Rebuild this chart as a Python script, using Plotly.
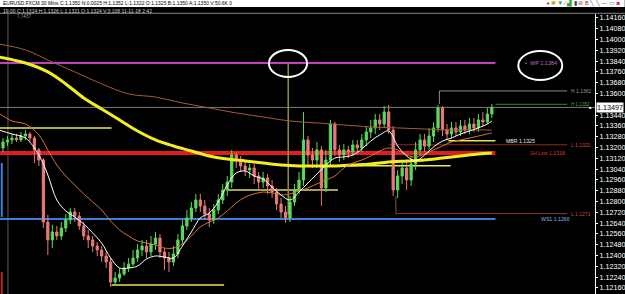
import plotly.graph_objects as go

# ---------------- data (EUR/USD 30 min candles) ----------------
bar_idx = list(range(110))
opens = [1.13196, 1.13241, 1.13256, 1.13270, 1.13256, 1.13285, 1.13300, 1.13270, 1.13182, 1.13107,
         1.12648, 1.12515, 1.12574, 1.12544, 1.12603, 1.12663, 1.12722, 1.12692, 1.12618, 1.12544,
         1.12515, 1.12470, 1.12441, 1.12396, 1.12352, 1.12203, 1.12233, 1.12263, 1.12307, 1.12337,
         1.12381, 1.12441, 1.12470, 1.12426, 1.12485, 1.12529, 1.12426, 1.12381, 1.12352, 1.12411,
         1.12515, 1.12618, 1.12678, 1.12752, 1.12811, 1.12767, 1.12707, 1.12663, 1.12737, 1.12811,
         1.12885, 1.12944, 1.13144, 1.13107, 1.13063, 1.13033, 1.13048, 1.12989, 1.12944, 1.12974,
         1.12915, 1.12870, 1.12781, 1.12722, 1.12678, 1.12796, 1.12885, 1.12959, 1.13256, 1.13144,
         1.13107, 1.13182, 1.12900, 1.13107, 1.13374, 1.13182, 1.13144, 1.13182, 1.13167, 1.13219,
         1.13196, 1.13256, 1.13315, 1.13345, 1.13404, 1.13374, 1.13463, 1.13330, 1.12885, 1.12989,
         1.13048, 1.12959, 1.13078, 1.13182, 1.13256, 1.13211, 1.13285, 1.13345, 1.13493, 1.13330,
         1.13300, 1.13345, 1.13315, 1.13359, 1.13330, 1.13374, 1.13345, 1.13404, 1.13389, 1.13448]
closes = [1.13241, 1.13256, 1.13270, 1.13256, 1.13285, 1.13300, 1.13270, 1.13182, 1.13107, 1.12648,
          1.12515, 1.12574, 1.12544, 1.12603, 1.12663, 1.12722, 1.12692, 1.12618, 1.12544, 1.12515,
          1.12470, 1.12441, 1.12396, 1.12352, 1.12203, 1.12233, 1.12263, 1.12307, 1.12337, 1.12381,
          1.12441, 1.12470, 1.12426, 1.12485, 1.12529, 1.12426, 1.12381, 1.12352, 1.12411, 1.12515,
          1.12618, 1.12678, 1.12752, 1.12811, 1.12767, 1.12707, 1.12663, 1.12737, 1.12811, 1.12885,
          1.12944, 1.13144, 1.13107, 1.13063, 1.13033, 1.13048, 1.12989, 1.12944, 1.12974, 1.12915,
          1.12870, 1.12781, 1.12722, 1.12678, 1.12796, 1.12885, 1.12959, 1.13256, 1.13144, 1.13107,
          1.13182, 1.12900, 1.13107, 1.13374, 1.13182, 1.13144, 1.13182, 1.13167, 1.13219, 1.13196,
          1.13256, 1.13315, 1.13345, 1.13404, 1.13374, 1.13463, 1.13330, 1.12885, 1.12989, 1.13048,
          1.12959, 1.13078, 1.13182, 1.13256, 1.13211, 1.13285, 1.13345, 1.13493, 1.13330, 1.13300,
          1.13345, 1.13315, 1.13359, 1.13330, 1.13374, 1.13345, 1.13404, 1.13389, 1.13448, 1.13497]
highs = [1.13270, 1.13285, 1.13300, 1.13300, 1.13315, 1.13330, 1.13315, 1.13285, 1.13196, 1.13122,
         1.12700, 1.12626, 1.12618, 1.12648, 1.12707, 1.12752, 1.12752, 1.12722, 1.12648, 1.12589,
         1.12544, 1.12500, 1.12470, 1.12426, 1.12381, 1.12278, 1.12307, 1.12352, 1.12381, 1.12441,
         1.12485, 1.12515, 1.12515, 1.12544, 1.12574, 1.12559, 1.12455, 1.12426, 1.12470, 1.12559,
         1.12663, 1.12737, 1.12796, 1.12856, 1.12856, 1.12811, 1.12752, 1.12781, 1.12856, 1.12930,
         1.12989, 1.13182, 1.13167, 1.13137, 1.13093, 1.13078, 1.13078, 1.13019, 1.13019, 1.13004,
         1.12959, 1.12900, 1.12826, 1.12767, 1.12841, 1.12930, 1.13019, 1.13463, 1.13285, 1.13196,
         1.13241, 1.13211, 1.13182, 1.13404, 1.13389, 1.13219, 1.13226, 1.13211, 1.13256, 1.13256,
         1.13300, 1.13359, 1.13404, 1.13448, 1.13448, 1.13507, 1.13515, 1.13359, 1.13033, 1.13107,
         1.13093, 1.13137, 1.13241, 1.13300, 1.13300, 1.13345, 1.13389, 1.13515, 1.13507, 1.13374,
         1.13389, 1.13389, 1.13404, 1.13404, 1.13419, 1.13419, 1.13448, 1.13463, 1.13493, 1.13522]
lows = [1.13167, 1.13211, 1.13226, 1.13241, 1.13241, 1.13256, 1.13241, 1.13085, 1.13063, 1.12603,
        1.12403, 1.12455, 1.12515, 1.12515, 1.12574, 1.12633, 1.12648, 1.12589, 1.12515, 1.12455,
        1.12426, 1.12396, 1.12352, 1.12307, 1.12166, 1.12174, 1.12203, 1.12248, 1.12278, 1.12322,
        1.12352, 1.12396, 1.12381, 1.12396, 1.12441, 1.12381, 1.12292, 1.12278, 1.12322, 1.12381,
        1.12485, 1.12589, 1.12648, 1.12722, 1.12722, 1.12663, 1.12611, 1.12633, 1.12707, 1.12781,
        1.12841, 1.12900, 1.13048, 1.13019, 1.12989, 1.12974, 1.12930, 1.12885, 1.12900, 1.12856,
        1.12826, 1.12737, 1.12678, 1.12641, 1.12648, 1.12767, 1.12856, 1.12915, 1.13070, 1.13048,
        1.13048, 1.12767, 1.12870, 1.13063, 1.13137, 1.13093, 1.13107, 1.13122, 1.13137, 1.13152,
        1.13167, 1.13211, 1.13270, 1.13300, 1.13330, 1.13345, 1.13300, 1.12841, 1.12826, 1.12930,
        1.12885, 1.12915, 1.13033, 1.13137, 1.13167, 1.13182, 1.13241, 1.13315, 1.13285, 1.13256,
        1.13270, 1.13285, 1.13285, 1.13300, 1.13300, 1.13315, 1.13315, 1.13359, 1.13374, 1.13419]

# moving averages
ma_x = [-1, 2, 5, 8] + list(range(10, 109, 2)) + [109]
ma_fast = [1.13330, 1.13300, 1.13270, 1.13144, 1.12996, 1.12811, 1.12730, 1.12685, 1.12633, 1.12567,
           1.12492, 1.12381, 1.12307, 1.12307, 1.12322, 1.12374, 1.12396, 1.12389, 1.12381, 1.12470,
           1.12574, 1.12678, 1.12715, 1.12796, 1.12922, 1.13011, 1.13026, 1.12989, 1.12967, 1.12907,
           1.12848, 1.12811, 1.12870, 1.12937, 1.13004, 1.13070, 1.13122, 1.13130, 1.13144, 1.13189,
           1.13248, 1.13293, 1.13322, 1.13211, 1.13137, 1.13100, 1.13144, 1.13204, 1.13248, 1.13270,
           1.13300, 1.13322, 1.13345, 1.13374, 1.13396]
ma_mid = [1.13456, 1.13396, 1.13374, 1.13293, 1.13182, 1.13070, 1.12989, 1.12922, 1.12856, 1.12796,
          1.12737, 1.12655, 1.12589, 1.12544, 1.12507, 1.12492, 1.12478, 1.12455, 1.12455, 1.12485,
          1.12544, 1.12611, 1.12648, 1.12678, 1.12730, 1.12789, 1.12833, 1.12856, 1.12870, 1.12863,
          1.12848, 1.12856, 1.12878, 1.12900, 1.12930, 1.12959, 1.12989, 1.13048, 1.13085, 1.13107,
          1.13137, 1.13174, 1.13196, 1.13182, 1.13144, 1.13130, 1.13152, 1.13182, 1.13211, 1.13241,
          1.13256, 1.13270, 1.13285, 1.13300, 1.13308]
slow_x = [-1, 5, 10, 16, 22, 28, 34, 40, 46, 52, 58, 64, 70, 76, 82, 88, 94, 100, 106, 109]
ma_slow = [1.13967, 1.13923, 1.13848, 1.13760, 1.13671, 1.13597, 1.13574, 1.13530, 1.13493, 1.13456,
           1.13426, 1.13396, 1.13382, 1.13367, 1.13352, 1.13345, 1.13337, 1.13330, 1.13330, 1.13330]
long_x = [-1, 5, 10, 14, 18, 22, 26, 30, 34, 38, 42, 46, 50, 54, 58, 62, 66, 70, 74, 78,
          82, 86, 90, 94, 98, 102, 106, 109]
ma_long = [1.13871, 1.13826, 1.13760, 1.13671, 1.13567, 1.13485, 1.13404, 1.13322, 1.13256, 1.13211,
           1.13174, 1.13137, 1.13115, 1.13100, 1.13085, 1.13070, 1.13063, 1.13063, 1.13063, 1.13070,
           1.13078, 1.13093, 1.13100, 1.13107, 1.13122, 1.13137, 1.13152, 1.13159]

# price levels
wp_level = 1.13826
h_prev = 1.13619
h_day = 1.13520
l_day = 1.13220
mbr_level = 1.13250
low_1h = 1.13160
ws1_level = 1.12670
l_prev = 1.12710
last_price = 1.13497
seg_levels = [1.13345, 1.12885, 1.12181, 1.13065]

# axis ticks (the 1.13520 label sits under the last-price box in the reference)
y_ticks = [1.12160 + 0.0008 * k for k in range(26) if k != 17]

# ---------------- figure ----------------
fig = go.Figure()

shapes = []
def hline(y, x0, x1, color, width, xref="x", layer="below"):
    shapes.append(dict(type="line", xref=xref, yref="y", x0=x0, x1=x1, y0=y, y1=y,
                       line=dict(color=color, width=width), layer=layer))

def vline(x, y0, y1, color, width, yref="y", xref="x", layer="below"):
    shapes.append(dict(type="line", xref=xref, yref=yref, x0=x, x1=x, y0=y0, y1=y1,
                       line=dict(color=color, width=width), layer=layer))

X_END = 109.8      # right end of last bar area
X_LBL = 125.8      # label-line end

vline(1.1, 0, 1, "#5a5a5a", 1, yref="paper")
hline(last_price, 0, 1, "#7a7a7a", 1, xref="paper")
hline(wp_level, -1, X_END, "#c23ec2", 2)
hline(h_prev, 97.3, X_LBL, "#8c8c8c", 1)
vline(97.3, h_prev, h_day, "#8c8c8c", 1)
hline(h_day, X_END, X_LBL, "#2f8a2f", 1)
hline(l_day, 86, X_LBL, "#8a2f22", 1)
hline(low_1h, -1, X_END, "#e01c1c", 4)
hline(ws1_level, -1, X_END, "#3a80d8", 2)
hline(l_prev, 87.6, X_LBL, "#8a3a2a", 1)
vline(87.6, 1.12841, l_prev, "#7a5a4a", 1)
hline(seg_levels[0], -1, 24.2, "#e6e65a", 1.5)
hline(seg_levels[1], 50, 74.7, "#d8d86a", 1.5)
hline(seg_levels[2], 24.2, 49.3, "#e6e65a", 1.5)
hline(seg_levels[3], 74.9, 99.8, "#f0f040", 1.5)
hline(mbr_level, 99.3, X_END, "#e6e65a", 1.5)
vline(63.6, wp_level, 1.12700, "#8f8f3a", 1.5)
vline(0.003, 1.13085, 1.12685, "#3a80d8", 2, xref="paper")
vline(0.003, 1.12278, 1.12115, "#c02020", 2, xref="paper")

# ellipses
shapes.append(dict(type="circle", xref="x", yref="y", x0=59.3, x1=67.8, y0=1.13722, y1=1.13923,
                   line=dict(color="white", width=2), layer="above"))
shapes.append(dict(type="circle", xref="x", yref="y", x0=114.9, x1=124.7, y0=1.13700, y1=1.13915,
                   line=dict(color="white", width=2), layer="above"))

# header bars
shapes.append(dict(type="rect", xref="paper", yref="paper", x0=0, x1=1.05, y0=1.025, y1=1.06,
                   fillcolor="white", line=dict(width=0), layer="above"))
shapes.append(dict(type="line", xref="paper", yref="paper", x0=0, x1=1.05, y0=1.0025, y1=1.0025,
                   line=dict(color="#888888", width=1), layer="above"))

fig.add_trace(go.Scatter(x=long_x, y=ma_long, mode="lines", line=dict(color="#f2ef1e", width=3, shape="spline"),
                         hoverinfo="skip"))
fig.add_trace(go.Scatter(x=slow_x, y=ma_slow, mode="lines", line=dict(color="#a85a35", width=1, shape="spline"),
                         hoverinfo="skip"))
fig.add_trace(go.Scatter(x=ma_x, y=ma_mid, mode="lines", line=dict(color="#d8742e", width=1, shape="spline"),
                         hoverinfo="skip"))
fig.add_trace(go.Candlestick(
    x=bar_idx, open=opens, high=highs, low=lows, close=closes,
    increasing=dict(line=dict(color="#5ada5a", width=1), fillcolor="#5ada5a"),
    decreasing=dict(line=dict(color="#e87a7a", width=1), fillcolor="#e87a7a"),
    whiskerwidth=0, hoverinfo="skip"))
fig.add_trace(go.Scatter(x=ma_x, y=ma_fast, mode="lines", line=dict(color="#ffffff", width=1, shape="spline"),
                         hoverinfo="skip"))

ann = []
def label(x, y, text, color, size=5.0):
    ann.append(dict(x=x, y=y, xref="x", yref="y", text=text, showarrow=False, xanchor="left",
                    yanchor="middle", font=dict(color=color, size=size, family="Liberation Sans, Arial")))

X_TXT = 126.1
label(116.0, wp_level, "•  WP 1.1384", "#c860c8", 5.5)
label(X_TXT, h_prev, "H 1.1362", "#9a9a9a")
label(X_TXT, h_day, "H 1.1352", "#3fae3f", 4.6)
label(X_TXT, l_day, "L 1.1322", "#c84a3a")
label(X_TXT, l_prev, "L 1.1271", "#c84a3a")
label(111.6, mbr_level, "MBR 1.1325", "#e8e8e8", 5.2)
label(117.0, low_1h, "1H Low 1.1318", "#e03030", 5.2)
label(119.5, ws1_level, "WS1 1.1266", "#8aaee0", 5.2)

# current price box on the axis
ann.append(dict(x=1, y=last_price, xref="paper", yref="y", text="1.13497", showarrow=False,
                xanchor="left", yanchor="middle", xshift=1, bgcolor="white", borderpad=0,
                font=dict(color="black", size=7.2, family="Liberation Sans, Arial")))
ann.append(dict(x=0.993, y=last_price, xref="paper", yref="y", text="■", showarrow=False,
                xanchor="center", yanchor="middle", font=dict(color="white", size=4)))

# header texts
ann.append(dict(x=0.002, y=1.0375, xref="paper", yref="paper", xanchor="left", yanchor="middle",
                showarrow=False,
                text="EURUSD.FXCM 30 Mins C:1.1350 N:0.0025 H:1.1352 L:1.1322 O:1.1325 B:1.1350 A:1.1350 V:50.6K 0",
                font=dict(color="black", size=5, family="Liberation Sans, Arial")))
ann.append(dict(x=0.002, y=1.0125, xref="paper", yref="paper", xanchor="left", yanchor="middle",
                showarrow=False,
                text="19:00 C:1.1324 H:1.1326 L:1.1321 O:1.1324 V:3,108 11-11-18 2:42",
                font=dict(color="#d0d0d0", size=5, family="Liberation Sans, Arial")))
ann.append(dict(x=0.025, y=0.992, xref="paper", yref="paper", xanchor="left", yanchor="middle",
                showarrow=False, text="1.1437", font=dict(color="#aaaaaa", size=4.5)))
icons = ('<span style="color:#d04040">◂</span> <span style="color:#c0a030">✱</span> '
         '<span style="color:#30a030">▼</span> <span style="color:#4060c0">⁄</span> '
         '<span style="color:#40a040">▟</span> <span style="color:#404040">▮</span> '
         '<span style="color:#c03030">⊘</span> <span style="color:#404040">B</span> '
         '<span style="color:#3050c0">╲</span> <span style="color:#3050c0">╲</span> '
         '<span style="color:#404040">—</span> <span style="color:#6080a0">▭</span> '
         '<span style="color:#d03030">■</span>')
ann.append(dict(x=1.046, y=1.0375, xref="paper", yref="paper", xanchor="right", yanchor="middle",
                showarrow=False, text=icons, font=dict(size=6)))

fig.update_layout(
    width=625, height=294,
    margin=dict(l=0, r=28, t=14, b=0),
    paper_bgcolor="black", plot_bgcolor="black",
    showlegend=False,
    shapes=shapes, annotations=ann,
    xaxis=dict(range=[-0.67, 132], visible=False, rangeslider=dict(visible=False), fixedrange=True),
    yaxis=dict(range=[1.121145, 1.14189], side="right", tickvals=y_ticks,
               ticktext=[f"{v:.5f}" for v in y_ticks],
               tickfont=dict(color="white", size=7.2, family="Liberation Sans, Arial"),
               showgrid=False, zeroline=False, showline=True, linecolor="white", linewidth=1,
               ticks="outside", ticklen=2, tickcolor="white", fixedrange=True),
)

fig.write_html("out.html")
